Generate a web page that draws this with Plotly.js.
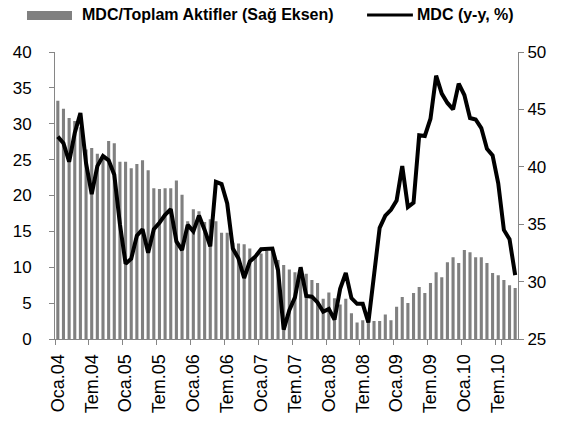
<!DOCTYPE html>
<html>
<head>
<meta charset="utf-8">
<script src="https://cdn.plot.ly/plotly-3.0.1.min.js"></script>
<style>html,body{margin:0;padding:0;background:#fff;}#chart{width:574px;height:430px;}</style>
</head>
<body>
<div id="chart"></div>
<script>
// Month names (Turkish) and years for the category axis
const monthNames = ["Oca","Şub","Mar","Nis","May","Haz","Tem","Ağu","Eyl","Eki","Kas","Ara"];
const years = ["04","05","06","07","08","09","10"];
const lastYearMonths = 10; // data runs Oca.04 .. Eki.10

// MDC / Toplam Aktifler (right axis, %)
const ratioValues = [
  45.75,45.06,44.25,44.00,43.44,41.50,41.63,41.13,41.00,42.25,42.06,40.44,
  40.44,39.88,40.25,40.56,39.69,38.13,38.06,38.13,38.13,38.81,37.56,35.25,
  36.31,36.13,35.19,35.44,35.25,34.25,34.25,33.38,33.31,33.25,32.88,32.19,
  32.44,32.69,32.69,31.88,31.44,31.06,30.81,30.94,30.69,30.13,29.88,28.50,
  29.06,28.56,28.00,28.50,27.25,26.44,26.63,26.50,26.56,26.56,27.13,26.63,
  27.81,28.66,28.13,29.00,29.53,29.00,29.88,30.81,30.38,31.69,32.13,31.63,
  32.75,32.56,32.13,32.13,31.63,30.75,30.56,30.13,29.69,29.44
];

// MDC (y-y, %) (left axis)
const growthValues = [
  28.2,27.3,24.7,28.7,31.5,24.5,20.2,24.1,25.5,24.9,22.9,16.0,
  10.5,11.2,14.4,15.3,12.0,15.3,16.2,17.3,18.1,13.6,12.4,15.9,
  15.0,17.2,15.2,12.9,21.9,21.6,18.9,12.6,11.2,8.5,10.8,11.5,
  12.5,12.5,12.6,9.6,1.3,4.0,5.8,10.0,6.0,5.9,5.1,3.8,
  4.2,2.7,7.0,9.2,5.7,4.9,4.9,2.3,8.4,15.5,17.2,18.0,
  19.3,24.1,18.4,19.0,28.4,28.3,30.7,36.7,34.2,32.9,32.0,35.6,
  34.0,30.8,30.6,29.4,26.5,25.6,21.7,15.2,13.9,8.9
];

const seriesNames = ["MDC/Toplam Aktifler (Sağ Eksen)", "MDC (y-y, %)"];

// build category labels
const categories = [];
years.forEach((y, yi) => {
  const n = (yi === years.length - 1) ? lastYearMonths : 12;
  for (let m = 0; m < n; m++) categories.push(monthNames[m] + "." + y);
});
const tickCats = categories.filter((c, i) => i % 6 === 0);

const barTrace = {
  type: "bar",
  x: categories,
  y: ratioValues,
  name: seriesNames[0],
  yaxis: "y",
  marker: {color: "#808080"},
  showlegend: false,
  hoverinfo: "x+y"
};
const lineTrace = {
  type: "scatter",
  mode: "lines",
  x: categories,
  y: growthValues,
  name: seriesNames[1],
  yaxis: "y2",
  line: {color: "#000000", width: 4},
  showlegend: false
};

const axisGray = "#868686";
const xTickFont = {family: "Liberation Sans, Arial, sans-serif", size: 18, color: "#000"};
const yTickFont = {family: "Liberation Sans, Arial, sans-serif", size: 17, color: "#000"};
const legendFont = {family: "Liberation Sans, Arial, sans-serif", size: 16, color: "#000"};

const layout = {
  width: 574,
  height: 430,
  margin: {l: 55, r: 56, t: 52, b: 91},
  paper_bgcolor: "#fff",
  plot_bgcolor: "#fff",
  bargap: 0.45,
  showlegend: false,
  xaxis: {
    type: "category",
    tickmode: "array",
    tickvals: tickCats,
    ticktext: tickCats,
    tickangle: -90,
    ticks: "outside",
    ticklen: 5,
    tickson: "boundaries",
    tickcolor: axisGray,
    showline: true,
    linecolor: axisGray,
    linewidth: 1,
    showgrid: false,
    tickfont: xTickFont,
    ticklabelstandoff: 7,
    range: [-0.5, categories.length - 0.5]
  },
  yaxis: {
    side: "right",
    range: [25, 50],
    dtick: 5,
    ticks: "outside",
    ticklen: 5,
    tickcolor: axisGray,
    showline: true,
    linecolor: axisGray,
    showgrid: false,
    zeroline: false,
    tickfont: yTickFont
  },
  yaxis2: {
    overlaying: "y",
    side: "left",
    range: [0, 40],
    dtick: 5,
    ticks: "outside",
    ticklen: 5,
    tickcolor: axisGray,
    showline: true,
    linecolor: axisGray,
    showgrid: false,
    zeroline: false,
    tickfont: yTickFont,
    ticklabelstandoff: 14
  },
  shapes: [
    {type: "rect", xref: "paper", yref: "paper", x0: -0.0605, x1: 0.0367, y0: 1.1115, y1: 1.143,
     fillcolor: "#808080", line: {width: 0}},
    {type: "line", xref: "paper", yref: "paper", x0: 0.674, x1: 0.773, y0: 1.129, y1: 1.129,
     line: {color: "#000", width: 3}}
  ],
  annotations: [
    {xref: "paper", yref: "paper", x: 0.054, y: 1.129, xanchor: "left", yanchor: "middle",
     text: "<b>" + seriesNames[0] + "</b>", showarrow: false, font: legendFont},
    {xref: "paper", yref: "paper", x: 0.777, y: 1.129, xanchor: "left", yanchor: "middle",
     text: "<b>" + seriesNames[1] + "</b>", showarrow: false, font: legendFont}
  ]
};

Plotly.newPlot("chart", [barTrace, lineTrace], layout, {displayModeBar: false, staticPlot: true});
</script>
</body>
</html>
